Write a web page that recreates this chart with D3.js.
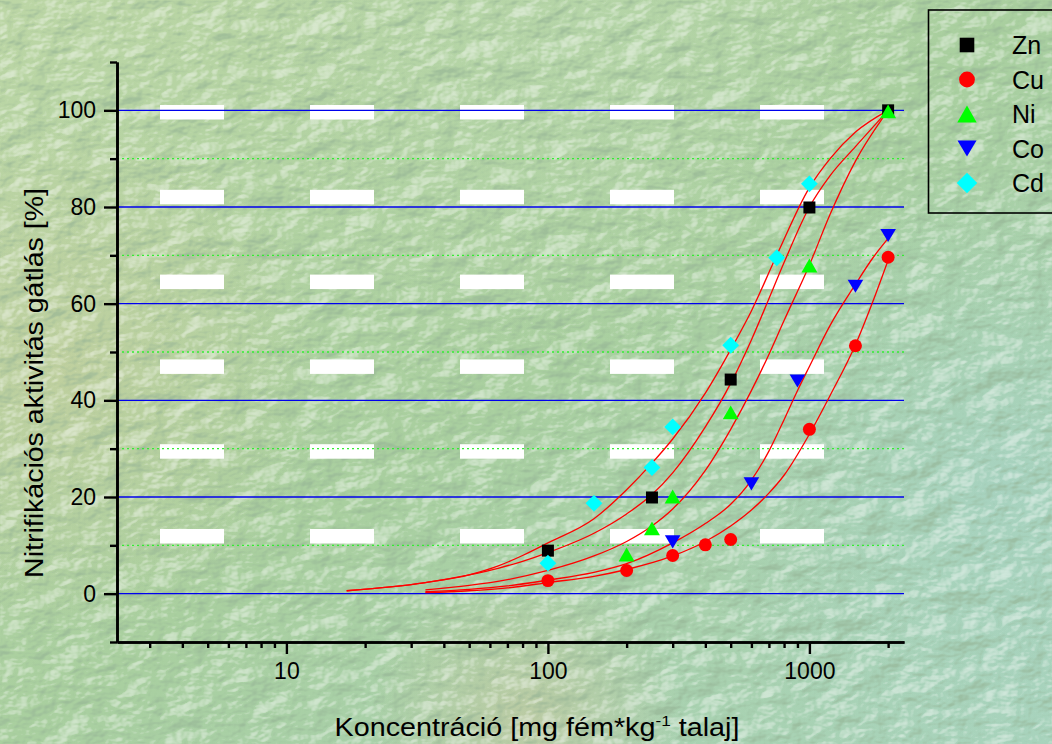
<!DOCTYPE html>
<html lang="hu">
<head>
<meta charset="UTF-8">
<title>Nitrifikációs aktivitás gátlás</title>
<script src="https://cdn.jsdelivr.net/npm/d3@7"></script>
<style>
    body { margin: 0; }
    svg { display: block; }
    text { font-family: "Liberation Sans", Arial, sans-serif; fill: #000; }
</style>
</head>
<body>
<script>
var width = 1052, height = 744;
var plot_left = 117, plot_right = 904, plot_top = 62, plot_bottom = 642;

// measured points (x: mg/kg, y: %)
var metals = ["Zn", "Cu", "Ni", "Co", "Cd"];
var zn_x = [100, 250, 500, 1000, 2000];
var zn_y = [8.9, 19.9, 44.3, 79.9, 100];
var cu_x = [100, 200, 300, 400, 500, 1000, 1500, 2000];
var cu_y = [2.7, 4.8, 7.9, 10.1, 11.2, 34, 51.3, 69.6];
var ni_x = [200, 250, 300, 500, 1000, 2000];
var ni_y = [8.1, 13.5, 20.1, 37.5, 67.9, 99.8];
var co_x = [300, 600, 900, 1500, 2000];
var co_y = [10.7, 22.7, 44, 63.6, 74.1];
var cd_x = [100, 150, 250, 300, 500, 750, 1000];
var cd_y = [6.3, 18.7, 26.1, 34.5, 51.4, 69.5, 84.8];

// fitted curves
var zn_fit_x = [17, 25, 34, 50, 65, 80, 100, 150, 200, 250, 300, 400, 500, 600, 700, 800, 1000, 1200, 1500, 2000];
var zn_fit_y = [0.6, 1.4, 2.3, 3.9, 5.3, 6.7, 8.5, 12.5, 16.5, 20.5, 25, 34.5, 43.5, 52.5, 61, 68.5, 80, 86.5, 92.5, 100];
var cd_fit_x = [17, 25, 34, 50, 65, 80, 100, 150, 200, 250, 300, 400, 500, 600, 750, 1000, 1200, 1500, 2000];
var cd_fit_y = [0.6, 1.4, 2.3, 3.9, 5.8, 7.9, 10.5, 15.5, 21.5, 27, 32, 41.5, 50.5, 58.5, 70, 84, 90, 95.5, 100];
var ni_fit_x = [34, 50, 70, 100, 150, 200, 250, 300, 400, 500, 600, 700, 800, 1000, 1200, 1500, 2000];
var ni_fit_y = [0.8, 1.7, 2.9, 4.8, 7.8, 10.8, 14, 17.5, 25.5, 34, 42, 49.5, 56.5, 68, 78.5, 89.5, 100];
var co_fit_x = [34, 50, 70, 100, 150, 200, 300, 400, 500, 600, 700, 800, 900, 1000, 1200, 1500, 1750, 2000];
var co_fit_y = [0.4, 0.9, 1.6, 2.8, 4.4, 6.2, 10.5, 14.5, 18.5, 23.5, 29.5, 36, 42, 47, 55.5, 64, 69.5, 73.5];
var cu_fit_x = [34, 50, 70, 100, 150, 200, 300, 400, 500, 600, 700, 800, 1000, 1200, 1500, 1750, 2000];
var cu_fit_y = [0.2, 0.6, 1.2, 2.3, 3.6, 5, 7.8, 10.8, 14, 17.3, 20.8, 24.5, 33, 41, 51.5, 60.5, 69];

// ticks
var y_major = [0, 20, 40, 60, 80, 100];
var y_minor = [-10, 10, 30, 50, 70, 90, 110];
var x_major = [10, 100, 1000];
var x_minor = [3, 4, 5, 6, 7, 8, 9, 20, 30, 40, 50, 60, 70, 80, 90, 200, 300, 400, 500, 600, 700, 800, 900, 2000];

var series = [
    {name: "Zn", shape: "square", color: "#000000", xs: zn_x, ys: zn_y},
    {name: "Cu", shape: "circle", color: "#ff0000", xs: cu_x, ys: cu_y},
    {name: "Ni", shape: "up", color: "#00ff00", xs: ni_x, ys: ni_y},
    {name: "Co", shape: "down", color: "#0000ff", xs: co_x, ys: co_y},
    {name: "Cd", shape: "diamond", color: "#00ffff", xs: cd_x, ys: cd_y}
];
var fits = [[zn_fit_x, zn_fit_y], [cd_fit_x, cd_fit_y], [ni_fit_x, ni_fit_y], [co_fit_x, co_fit_y], [cu_fit_x, cu_fit_y]];

var x_scale = d3.scaleLog().domain([2.25, 2300]).range([plot_left, plot_right]);
var y_scale = d3.scaleLinear().domain([-10, 110]).range([plot_bottom, plot_top]);

var svg = d3.select("body").append("svg").attr("width", width).attr("height", height);
var defs = svg.append("defs");

// background
var lg = defs.append("linearGradient").attr("id", "bg").attr("x1", 0).attr("y1", 0).attr("x2", 1).attr("y2", 1);
lg.append("stop").attr("offset", "0%").attr("stop-color", "#bcd6a5");
lg.append("stop").attr("offset", "50%").attr("stop-color", "#a9cf9f");
lg.append("stop").attr("offset", "100%").attr("stop-color", "#a8d3bb");

var spots = [
    {id: "s1", cx: 0.06, cy: 0.5, r: 0.25, c: "#cccd9c", o: 0.5},
    {id: "s2", cx: 0.5, cy: 0.97, r: 0.15, c: "#d2c49a", o: 0.45},
    {id: "s3", cx: 0.95, cy: 0.65, r: 0.3, c: "#a6d4cf", o: 0.5},
    {id: "s4", cx: 0.55, cy: 0.05, r: 0.3, c: "#bad8ae", o: 0.5}
];
spots.forEach(function (s) {
    var rg = defs.append("radialGradient").attr("id", s.id)
        .attr("cx", s.cx).attr("cy", s.cy).attr("r", s.r)
        .attr("gradientTransform", "translate(" + s.cx + "," + s.cy + ") scale(1," + (width / height) + ") translate(" + (-s.cx) + "," + (-s.cy) + ")");
    rg.append("stop").attr("offset", "0%").attr("stop-color", s.c).attr("stop-opacity", s.o);
    rg.append("stop").attr("offset", "100%").attr("stop-color", s.c).attr("stop-opacity", 0);
});

var f = defs.append("filter").attr("id", "tex").attr("x", 0).attr("y", 0).attr("width", "100%").attr("height", "100%");
f.append("feTurbulence").attr("type", "fractalNoise").attr("baseFrequency", "0.025 0.04")
    .attr("numOctaves", 4).attr("seed", 7).attr("result", "n");
f.append("feDiffuseLighting").attr("in", "n").attr("surfaceScale", 7).attr("lighting-color", "#fff").attr("result", "l")
    .append("feDistantLight").attr("azimuth", 225).attr("elevation", 50);
f.append("feColorMatrix").attr("in", "l").attr("type", "matrix")
    .attr("values", "0 0 0 0 1  0 0 0 0 1  0 0 0 0 1  3.2 0 0 0 -2.45").attr("result", "hi");
f.append("feColorMatrix").attr("in", "l").attr("type", "matrix")
    .attr("values", "0 0 0 0 0.3  0 0 0 0 0.45  0 0 0 0 0.3  -2.6 0 0 0 1.75").attr("result", "lo");
var fm = f.append("feMerge");
fm.append("feMergeNode").attr("in", "lo");
fm.append("feMergeNode").attr("in", "hi");

svg.append("rect").attr("width", width).attr("height", height).attr("fill", "url(#bg)");
spots.forEach(function (s) {
    svg.append("rect").attr("width", width).attr("height", height).attr("fill", "url(#" + s.id + ")");
});
svg.append("rect").attr("width", width).attr("height", height).attr("filter", "url(#tex)").attr("opacity", 0.6);

// white dashes of the slide background
var deco = svg.append("g");
for (var i = 0; i < 5; i++) {
    for (var j = 0; j < 6; j++) {
        deco.append("rect").attr("x", 160 + i * 150).attr("y", 105 + j * 84.8)
            .attr("width", 64).attr("height", 14.5).attr("fill", "#fff");
    }
}

// grid
svg.append("g").selectAll("line").data(y_minor.filter(function (d) { return d > 0 && d < 100; }))
    .enter().append("line")
    .attr("x1", plot_left).attr("x2", plot_right)
    .attr("y1", function (d) { return y_scale(d); }).attr("y2", function (d) { return y_scale(d); })
    .attr("stroke", "#33ee33").attr("stroke-width", 1.3).attr("stroke-dasharray", "2,3");
svg.append("g").selectAll("line").data(y_major)
    .enter().append("line")
    .attr("x1", plot_left).attr("x2", plot_right)
    .attr("y1", function (d) { return y_scale(d); }).attr("y2", function (d) { return y_scale(d); })
    .attr("stroke", "#0000ee").attr("stroke-width", 1.4);

// axes
function style_axis(g) {
    g.attr("font-size", 23).attr("font-family", "Liberation Sans, Arial, sans-serif");
    g.select(".domain").attr("stroke", "#000").attr("stroke-width", 2.6);
    g.selectAll(".tick line").attr("stroke", "#000").attr("stroke-width", 2.4);
    g.selectAll(".tick text").attr("fill", "#000");
}
svg.append("g").attr("transform", "translate(" + plot_left + ",0)")
    .call(d3.axisLeft(y_scale).tickValues(y_minor).tickSize(7).tickSizeOuter(0).tickFormat(""))
    .call(style_axis);
svg.append("g").attr("transform", "translate(" + plot_left + ",0)")
    .call(d3.axisLeft(y_scale).tickValues(y_major).tickSize(13).tickSizeOuter(0).tickPadding(8))
    .call(style_axis);
svg.append("g").attr("transform", "translate(0," + plot_bottom + ")")
    .call(d3.axisBottom(x_scale).tickValues(x_minor).tickSize(6).tickSizeOuter(0).tickFormat(""))
    .call(style_axis);
svg.append("g").attr("transform", "translate(0," + plot_bottom + ")")
    .call(d3.axisBottom(x_scale).tickValues(x_major).tickSize(12).tickSizeOuter(0).tickPadding(9).tickFormat(d3.format("d")))
    .call(style_axis);

// axis titles
var xt = svg.append("text").attr("text-anchor", "middle").attr("font-size", "25px");
xt.append("tspan").text("Koncentráció [mg fém*kg");
xt.append("tspan").attr("font-size", "15px").attr("dy", -10).text("-1");
xt.append("tspan").attr("dy", 10).text(" talaj]");
var xw = xt.node().getBBox().width;
xt.attr("transform", "translate(537,736) scale(" + (405 / xw) + ",1)");

var yt = svg.append("text").attr("text-anchor", "middle").attr("font-size", "25px")
    .text("Nitrifikációs aktivitás gátlás [%]");
var yw = yt.node().getBBox().width;
yt.attr("transform", "translate(43,383) rotate(-90) scale(" + (390 / yw) + ",1)");

// fitted curves
var line = d3.line()
    .x(function (d) { return x_scale(d[0]); })
    .y(function (d) { return y_scale(d[1]); })
    .curve(d3.curveMonotoneX);
svg.append("g").selectAll("path").data(fits).enter().append("path")
    .attr("d", function (f) { return line(f[0].map(function (v, k) { return [v, f[1][k]]; })); })
    .attr("fill", "none").attr("stroke", "#ff0000").attr("stroke-width", 1.3);

// symbols
function shape_path(shape, s) {
    if (shape === "square") return "M" + (-s) + "," + (-s) + "h" + (2 * s) + "v" + (2 * s) + "h" + (-2 * s) + "Z";
    if (shape === "circle") return d3.symbol(d3.symbolCircle, Math.PI * s * s * 1.17)();
    if (shape === "up") return "M0," + (-s * 1.15) + "L" + (s * 1.33) + "," + (s * 1.15) + "L" + (-s * 1.33) + "," + (s * 1.15) + "Z";
    if (shape === "down") return "M0," + (s * 1.1) + "L" + (s * 1.3) + "," + (-s * 1.1) + "L" + (-s * 1.3) + "," + (-s * 1.1) + "Z";
    return "M0," + (-s * 1.4) + "L" + (s * 1.4) + ",0L0," + (s * 1.4) + "L" + (-s * 1.4) + ",0Z";
}
series.forEach(function (sr) {
    svg.append("g").selectAll("path").data(sr.xs).enter().append("path")
        .attr("d", shape_path(sr.shape, 6))
        .attr("transform", function (d, k) { return "translate(" + x_scale(d) + "," + y_scale(sr.ys[k]) + ")"; })
        .attr("fill", sr.color);
});

// legend
var lgd = svg.append("g");
lgd.append("rect").attr("x", 928.5).attr("y", 10).attr("width", 140).attr("height", 203)
    .attr("fill", "none").attr("stroke", "#000").attr("stroke-width", 1.6);
series.forEach(function (sr, k) {
    var yy = 45 + k * 34.5;
    lgd.append("path").attr("d", shape_path(sr.shape, 7.3))
        .attr("transform", "translate(967," + yy + ")").attr("fill", sr.color);
    lgd.append("text").attr("x", 1012).attr("y", yy).attr("dy", "0.36em")
        .attr("font-size", "25px").text(sr.name);
});
</script>
</body>
</html>
